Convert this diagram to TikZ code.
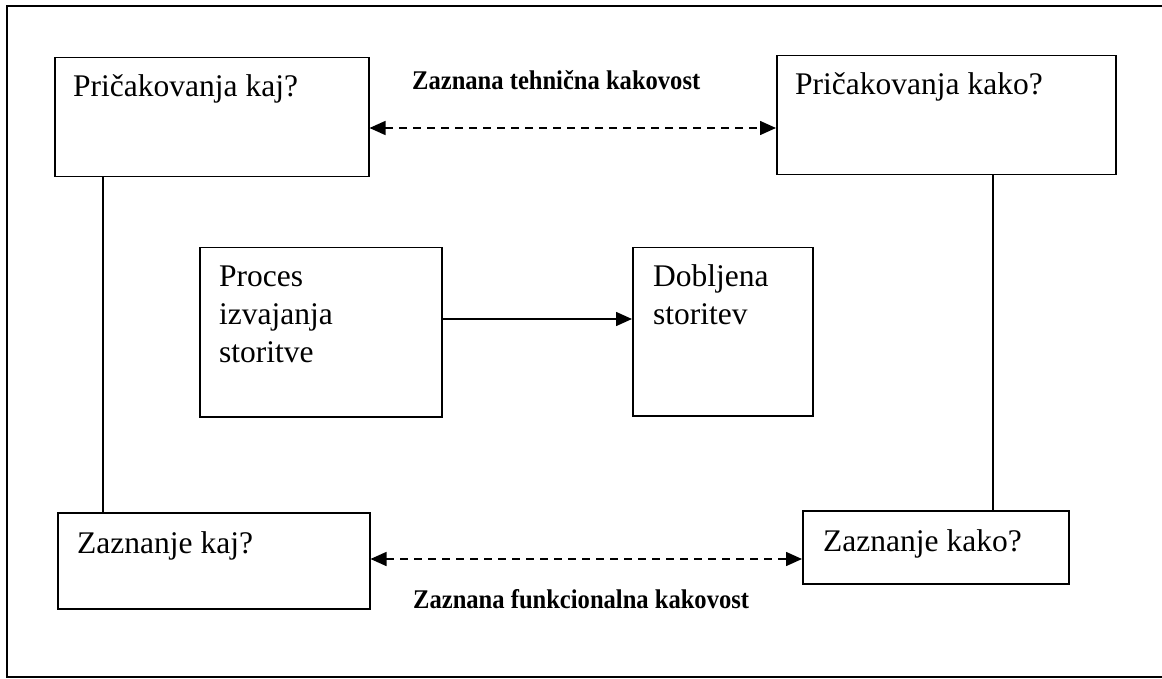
\documentclass[tikz,border=0pt]{standalone}
\usepackage{fontspec}
\setmainfont{Liberation Serif}
\usetikzlibrary{arrows.meta,calc}

\newcommand{\narrowtext}[1]{\scalebox{0.91}[1]{#1}}

\tikzset{
  box/.style={draw, line width=1.5pt, anchor=north west, inner sep=0pt},
  boxtext/.style={anchor=base west, inner sep=0pt, align=left,
                  font=\fontsize{31.5}{38}\selectfont},
  caption/.style={anchor=base west, inner sep=0pt,
                  font=\fontsize{27}{30}\selectfont\bfseries},
  >={Triangle[length=16pt,width=14pt]},
  dasharrow/.style={line width=1.5pt, dash pattern=on 8pt off 6pt, <->},
  solidarrow/.style={line width=1.5pt, ->},
  link/.style={line width=1.3pt},
  frame/.style={line width=1.5pt}
}

\begin{document}
\begin{tikzpicture}[x=1pt,y=-1pt]
\useasboundingbox (0,0) rectangle (1162,679);

% outer frame
\draw[frame] (1162,6) -- (7,6) -- (7,677) -- (1162,677);

% boxes
\node[box, minimum width=314pt, minimum height=119pt] (pkaj)  at (54,57)  {};
\node[box, minimum width=339pt, minimum height=119pt] (pkako) at (776,55) {};
\node[box, minimum width=312pt, minimum height=96pt]  (zkaj)  at (57,512) {};
\node[box, minimum width=266pt, minimum height=73pt]  (zkako) at (802,510) {};
\node[box, minimum width=242pt, minimum height=169pt] (proc)  at (199,247) {};
\node[box, minimum width=180pt, minimum height=168pt] (dobl)  at (632,247) {};

% box texts (multi-line nodes sit on the baseline of their last line)
\node[boxtext] (tpkaj)  at ($(pkaj.north west)+(19,40)$)  {Pričakovanja kaj?};
\node[boxtext] (tpkako) at ($(pkako.north west)+(19,40)$) {Pričakovanja kako?};
\node[boxtext] (tzkaj)  at ($(zkaj.north west)+(20,41)$)  {Zaznanje kaj?};
\node[boxtext] (tzkako) at ($(zkako.north west)+(21,41)$) {Zaznanje kako?};
\node[boxtext] (tproc)  at ($(proc.north west)+(20,115)$) {Proces\\izvajanja\\storitve};
\node[boxtext] (tdobl)  at ($(dobl.north west)+(21,77)$)  {Dobljena\\storitev};

% vertical links
\draw[link] ($(pkaj.south west)+(49,0)$) -- ($(zkaj.north west)+(46,0)$);
\draw[link] ($(pkako.south west)+(217,0)$) -- ($(zkako.north west)+(191,0)$);

% arrows
\draw[dasharrow] ($(pkaj.north east)+(0,71)$) -- ($(pkako.north west)+(0,73)$);
\draw[dasharrow] ($(zkaj.north east)+(0,47)$) -- ($(zkako.north west)+(0,49)$);
\draw[solidarrow] ($(proc.north east)+(0,72)$) -- ($(dobl.north west)+(0,72)$);

% arrow captions
\node[caption] (ctech) at (412,90)  {\narrowtext{Zaznana tehnična kakovost}};
\node[caption] (cfunk) at (413,608) {\narrowtext{Zaznana funkcionalna kakovost}};
\end{tikzpicture}
\end{document}
